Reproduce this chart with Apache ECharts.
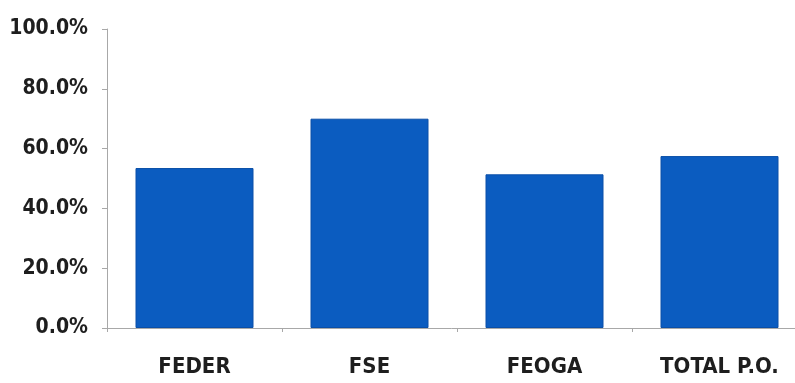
<!DOCTYPE html>
<html>
<head>
<meta charset="utf-8">
<script src="https://cdn.jsdelivr.net/npm/echarts@6/dist/echarts.min.js"></script>
<style>
  html, body { margin: 0; padding: 0; background: #ffffff; }
  #chart { width: 795px; height: 383px; }
</style>
</head>
<body>
<div id="chart"></div>
<script>
// Funds and their execution rate (%)
const categories = ['FEDER', 'FSE', 'FEOGA', 'TOTAL P.O.'];
const values = [53.5, 70.0, 51.4, 57.5];
const yMin = 0, yMax = 100, yStep = 20;

const chart = echarts.init(document.getElementById('chart'), null, { renderer: 'canvas' });
const fontFamily = '"DejaVu Sans Condensed", "DejaVu Sans", sans-serif';

chart.setOption({
  animation: false,
  backgroundColor: '#ffffff',
  grid: { left: 107, top: 29, width: 700, bottom: 55, containLabel: false, outerBoundsMode: 'none' },
  xAxis: {
    type: 'category',
    data: categories,
    axisLine: { show: true, lineStyle: { color: '#a8a8a8', width: 1 } },
    axisTick: { show: true, length: 4, lineStyle: { color: '#a8a8a8' } },
    axisLabel: { margin: 28, fontFamily, fontWeight: 'bold', fontSize: 22, color: '#1e1e1e' },
    splitLine: { show: false }
  },
  yAxis: {
    type: 'value',
    min: yMin, max: yMax, interval: yStep,
    axisLine: { show: true, lineStyle: { color: '#a8a8a8', width: 1 } },
    axisTick: { show: true, length: 5, lineStyle: { color: '#a8a8a8' } },
    axisLabel: {
      margin: 19, fontFamily, fontWeight: 'bold', fontSize: 21, color: '#1e1e1e',
      formatter: v => v.toFixed(1) + '%'
    },
    splitLine: { show: false }
  },
  series: [{
    type: 'bar',
    data: values,
    barWidth: 118,
    itemStyle: { color: '#0b5cc0', borderColor: '#0a4fa8', borderWidth: 1 }
  }]
});
</script>
</body>
</html>
